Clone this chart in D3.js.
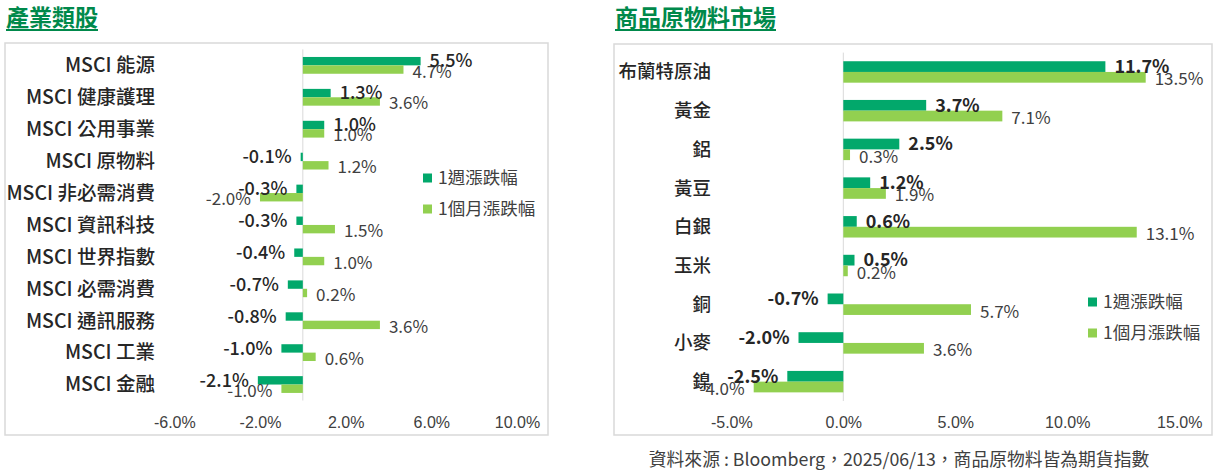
<!DOCTYPE html>
<meta charset="utf-8">
<style>
    body { margin: 0; background: #fff; }
    svg { display: block; font-family: "Noto Sans CJK TC", "Noto Sans", sans-serif; }
    .title { fill: #00894b; font-size: 23px; font-weight: 700; }
    .cat { fill: #262626; font-weight: 500; }
    .tick text { fill: #404040; font-size: 16px; }
    .lab-w { fill: #262626; font-size: 18px; }
    .lab-m { fill: #404040; font-size: 17px; }
    .legend text { fill: #404040; font-size: 17.5px; }
    .source { fill: #404040; font-size: 17.8px; }
</style>
<body>
<svg></svg>
</body>
<script src="https://d3js.org/d3.v7.min.js"></script>
<script>
    // series
    var seriesNames = ["1週漲跌幅", "1個月漲跌幅"];
    var seriesColors = ["#02a86b", "#92d050"];

    // industry sectors
    var sectorNames = ["MSCI 能源", "MSCI 健康護理", "MSCI 公用事業", "MSCI 原物料", "MSCI 非必需消費",
        "MSCI 資訊科技", "MSCI 世界指數", "MSCI 必需消費", "MSCI 通訊服務", "MSCI 工業", "MSCI 金融"];
    var sectorWeek = [5.5, 1.3, 1.0, -0.1, -0.3, -0.3, -0.4, -0.7, -0.8, -1.0, -2.1];
    var sectorMonth = [4.7, 3.6, 1.0, 1.2, -2.0, 1.5, 1.0, 0.2, 3.6, 0.6, -1.0];
    var sectorTicks = [-6, -2, 2, 6, 10];

    // commodities
    var commodityNames = ["布蘭特原油", "黃金", "鋁", "黃豆", "白銀", "玉米", "銅", "小麥", "鎳"];
    var commodityWeek = [11.7, 3.7, 2.5, 1.2, 0.6, 0.5, -0.7, -2.0, -2.5];
    var commodityMonth = [13.5, 7.1, 0.3, 1.9, 13.1, 0.2, 5.7, 3.6, -4.0];
    var commodityTicks = [-5, 0, 5, 10, 15];

    var width = 1217, height = 474;
    var svg = d3.select("svg").attr("width", width).attr("height", height);

    function pct(v) { return v.toFixed(1) + "%"; }

    function panel(o) {
        var g = svg.append("g");

        // title with underline
        var t = g.append("text").attr("class", "title")
            .attr("x", o.titleX).attr("y", 18).attr("dy", "0.35em")
            .text(o.title);
        var tw = t.node().getComputedTextLength();
        g.append("rect").attr("x", o.titleX).attr("y", 29)
            .attr("width", tw).attr("height", 2).attr("fill", "#00894b");

        // chart frame
        g.append("rect")
            .attr("x", o.box[0]).attr("y", o.box[1])
            .attr("width", o.box[2]).attr("height", o.box[3])
            .attr("fill", "none").attr("stroke", "#d9d9d9").attr("stroke-width", 1.5);

        var x = d3.scaleLinear().domain(o.domain).range(o.xRange);
        var y = d3.scaleBand().domain(o.names).range(o.yRange);
        var bh = y.bandwidth() * o.barFrac;

        // zero line
        g.append("line")
            .attr("x1", x(0)).attr("x2", x(0))
            .attr("y1", o.yRange[0]).attr("y2", o.yRange[1])
            .attr("stroke", "#d9d9d9").attr("stroke-width", 1);

        var rows = o.names.map(function (n, i) {
            return {name: n, w: o.week[i], m: o.month[i]};
        });

        var mid = function (d) { return y(d.name) + y.bandwidth() / 2; };

        // weekly bars (upper)
        g.append("g").selectAll("rect").data(rows).enter().append("rect")
            .attr("x", function (d) { return x(Math.min(0, d.w)); })
            .attr("y", function (d) { return mid(d) - bh; })
            .attr("width", function (d) { return Math.abs(x(d.w) - x(0)); })
            .attr("height", bh)
            .attr("fill", seriesColors[0]);

        // monthly bars (lower)
        g.append("g").selectAll("rect").data(rows).enter().append("rect")
            .attr("x", function (d) { return x(Math.min(0, d.m)); })
            .attr("y", function (d) { return mid(d); })
            .attr("width", function (d) { return Math.abs(x(d.m) - x(0)); })
            .attr("height", bh)
            .attr("fill", seriesColors[1]);

        // category labels
        g.append("g").selectAll("text").data(rows).enter().append("text")
            .attr("class", "cat")
            .style("font-size", o.catSize + "px")
            .attr("x", o.labelX).attr("y", mid)
            .attr("dy", "0.35em").attr("text-anchor", "end")
            .text(function (d) { return d.name; });

        // value labels
        g.append("g").selectAll("text").data(rows).enter().append("text")
            .attr("class", "lab-m")
            .attr("x", function (d) { return x(d.m) + (d.m < 0 ? -9 : 9); })
            .attr("y", function (d) { return mid(d) + bh / 2 + 2; })
            .attr("dy", "0.35em")
            .attr("text-anchor", function (d) { return d.m < 0 ? "end" : "start"; })
            .text(function (d) { return pct(d.m); });

        g.append("g").selectAll("text").data(rows).enter().append("text")
            .attr("class", "lab-w")
            .style("font-weight", o.weekWeight)
            .attr("x", function (d) { return x(d.w) + (d.w < 0 ? -9 : 9); })
            .attr("y", function (d) { return mid(d) - bh / 2; })
            .attr("dy", "0.35em")
            .attr("text-anchor", function (d) { return d.w < 0 ? "end" : "start"; })
            .text(function (d) { return pct(d.w); });

        // axis
        var ax = g.append("g")
            .attr("transform", "translate(0," + 417 + ")")
            .call(d3.axisBottom(x).tickValues(o.ticks).tickSize(0).tickPadding(0).tickFormat(pct));
        ax.select(".domain").remove();
        ax.selectAll("text").attr("font-family", null).attr("font-size", null);

        // legend
        var lg = g.append("g").attr("class", "legend")
            .attr("transform", "translate(" + o.legend[0] + "," + o.legend[1] + ")");
        seriesNames.forEach(function (s, i) {
            lg.append("rect").attr("x", 0).attr("y", i * 31 - 4.5)
                .attr("width", 9).attr("height", 9).attr("fill", seriesColors[i]);
            lg.append("text").attr("x", 15).attr("y", i * 31)
                .attr("dy", "0.35em").text(s);
        });
    }

    panel({
        title: "產業類股", titleX: 6,
        box: [5, 43, 543, 392],
        names: sectorNames, week: sectorWeek, month: sectorMonth,
        domain: [-6, 10], ticks: sectorTicks,
        xRange: [174.3, 517], yRange: [49.4, 400.5], barFrac: 0.263,
        labelX: 155, catSize: 19.5, weekWeight: 500, legend: [423, 178]
    });

    panel({
        title: "商品原物料市場", titleX: 615,
        box: [614, 44, 598, 391],
        names: commodityNames, week: commodityWeek, month: commodityMonth,
        domain: [-5, 15], ticks: commodityTicks,
        xRange: [731.3, 1179.3], yRange: [52.6, 401], barFrac: 0.277,
        labelX: 711, catSize: 18.5, weekWeight: 700, legend: [1088, 302]
    });

    svg.append("text").attr("class", "source")
        .attr("x", 899).attr("y", 460).attr("dy", "0.35em")
        .attr("text-anchor", "middle")
        .text("資料來源 : Bloomberg，2025/06/13，商品原物料皆為期貨指數");
</script>
</html>
